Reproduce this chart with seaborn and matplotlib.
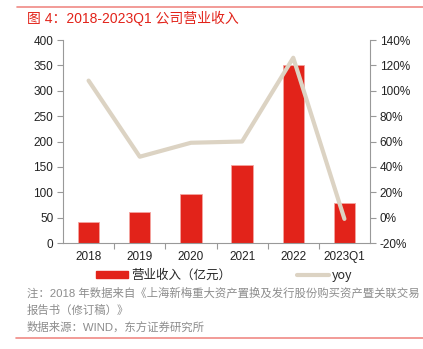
import matplotlib
matplotlib.use("Agg")
import matplotlib.pyplot as plt
import seaborn as sns
import pandas as pd
from matplotlib.lines import Line2D
from matplotlib.patches import Patch
from matplotlib.ticker import FuncFormatter, FixedLocator

categories = ["2018", "2019", "2020", "2021", "2022", "2023Q1"]
revenue = [41, 61, 97, 154, 351, 78]
yoy = [108, 48, 59, 60, 126, -1]

sns.set_theme(style="white")
plt.rcParams['font.family'] = ['Liberation Sans', 'Noto Sans CJK SC', 'DejaVu Sans']

df = pd.DataFrame({"cat": categories, "rev": revenue, "yoy": yoy})

fig = plt.figure(figsize=(4.23, 3.49), dpi=100)
W, H = 423, 349
ax = fig.add_axes([63 / W, 1 - 243 / H, (370 - 63) / W, (243 - 40) / H])

red = "#E2231A"
beige = "#DCD3C3"
gray = "#8C8C8C"

sns.barplot(data=df, x="cat", y="rev", ax=ax, color=red, width=0.42,
            edgecolor="#F4A5A0", linewidth=0.6, saturation=1)
ax.set_ylim(0, 400)
ax.set_xlim(-0.5, 5.5)
ax.set_yticks(range(0, 401, 50))
ax.set_xlabel("")
ax.set_ylabel("")

ax2 = ax.twinx()
sns.lineplot(data=df, x="cat", y="yoy", ax=ax2, color=beige, linewidth=3, sort=False)
ax2.set_ylim(-20, 140)
ax2.set_yticks(range(-20, 141, 20))
ax2.yaxis.set_major_formatter(FuncFormatter(lambda v, p: f"{int(v)}%"))
ax2.set_xlim(-0.5, 5.5)
ax2.set_xlabel("")
ax2.set_ylabel("")

for a in (ax, ax2):
    a.spines["top"].set_visible(False)
    for s in ("left", "right", "bottom"):
        a.spines[s].set_color("#999999")
        a.spines[s].set_linewidth(0.8)
ax.spines["right"].set_visible(False)
ax2.spines["left"].set_visible(False)
ax2.spines["bottom"].set_visible(False)

ax.tick_params(axis="y", which="both", direction="out", length=4, width=0.8,
               color="#999999", labelsize=8.5, labelcolor="#222222", left=True, pad=3)
ax2.tick_params(axis="y", direction="out", length=4, width=0.8,
                color="#999999", labelsize=8.5, labelcolor="#222222", right=True, pad=3)
ax.tick_params(axis="x", which="major", length=0, labelsize=8.5, labelcolor="#222222", pad=6)
ax.xaxis.set_minor_locator(FixedLocator([0.5, 1.5, 2.5, 3.5, 4.5]))
ax.tick_params(axis="x", which="minor", direction="out", length=4, width=0.8,
               color="#999999", bottom=True)

cjk = ['Noto Sans CJK SC', 'DejaVu Sans']
mixed = ['Liberation Sans', 'Noto Sans CJK SC', 'DejaVu Sans']

# Legend (font 9pt = 12.5px)
fs_px = 12.5
handles = [Patch(facecolor=red, edgecolor=red), Line2D([0], [0], color=beige, lw=3)]
leg = fig.legend(handles, ["营业收入（亿元）", "yoy"], loc="center left",
                 bbox_to_anchor=(96 / W, 1 - 275 / H), ncol=2, frameon=False,
                 prop={"family": cjk, "size": 9}, columnspacing=66 / fs_px,
                 handlelength=32 / fs_px, handleheight=0.5, handletextpad=3 / fs_px,
                 borderpad=0, borderaxespad=0)

# Top rule and title
fig.add_artist(Line2D([17 / W, 1.0], [1 - 7 / H, 1 - 7 / H], color="#F08A85", lw=1.2))
fig.text(27 / W, 1 - 18 / H, "图 4：2018-2023Q1 公司营业收入", color=red,
         fontsize=10, va="center", ha="left", family=mixed)

# Notes
fig.text(27 / W, 1 - 293 / H, "注：2018 年数据来自《上海新梅重大资产置换及发行股份购买资产暨关联交易",
         color=gray, fontsize=8.2, va="center", ha="left", family=mixed)
fig.text(27 / W, 1 - 310 / H, "报告书（修订稿）》",
         color=gray, fontsize=8.2, va="center", ha="left", family=mixed)
fig.text(27 / W, 1 - 327 / H, "数据来源：WIND，东方证券研究所",
         color=gray, fontsize=8.2, va="center", ha="left", family=mixed)
fig.add_artist(Line2D([16 / W, 1.0], [1 - 338 / H, 1 - 338 / H], color="#F08A85", lw=1.2))

fig.savefig("out.png", dpi=100)
